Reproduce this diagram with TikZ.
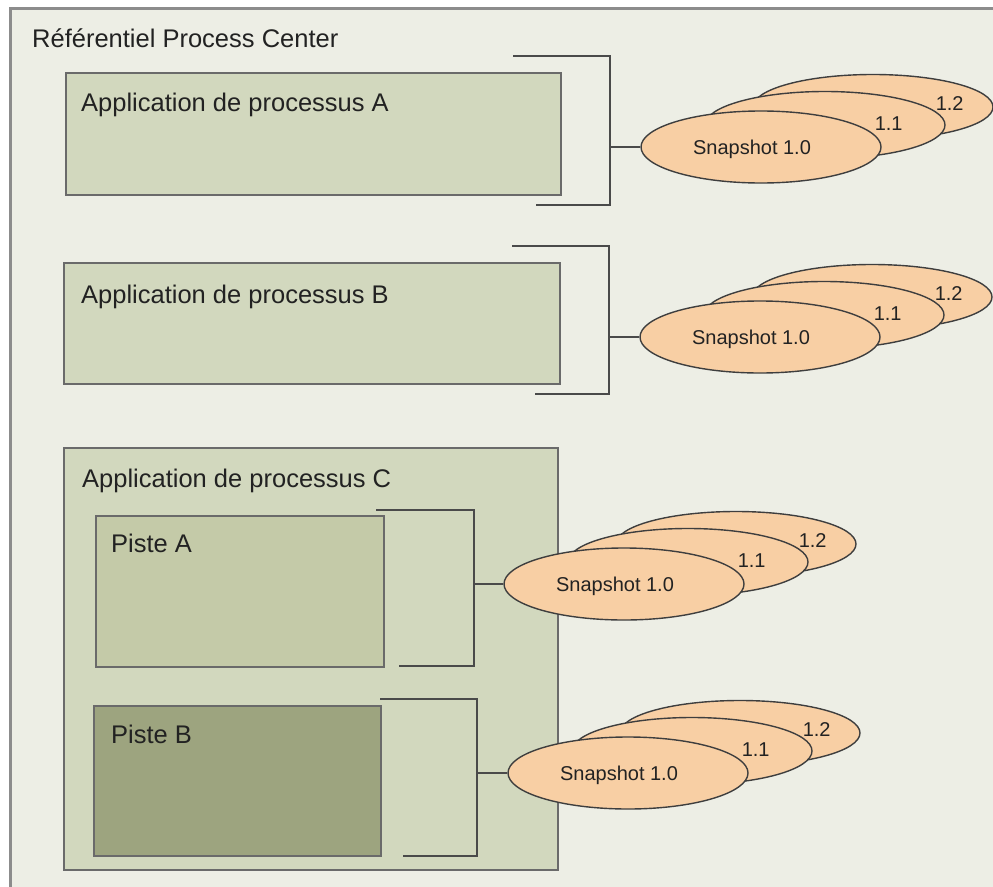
\documentclass[tikz,border=0pt]{standalone}
\usepackage{fontspec}
\setmainfont{Liberation Sans}
\usetikzlibrary{shapes.geometric}
\definecolor{framefill}{HTML}{EDEEE5}
\definecolor{framegray}{HTML}{8C8C8C}
\definecolor{boxline}{HTML}{6A6A6A}
\definecolor{appfill}{HTML}{D2D8BE}
\definecolor{pisteAfill}{HTML}{C4CAA8}
\definecolor{pisteBfill}{HTML}{9DA47F}
\definecolor{snapfill}{HTML}{F8CFA4}
\definecolor{snapline}{HTML}{3E3E3E}
\definecolor{brackline}{HTML}{4A4A4A}
\definecolor{textcol}{HTML}{222222}

\begin{document}
\begin{tikzpicture}[x=1pt, y=-1pt, every node/.style={inner sep=0pt, text=textcol},
    appbox/.style={draw=boxline, line width=2pt, fill=appfill, anchor=north west},
    bigtext/.style={font=\fontsize{25.5}{30}\selectfont, anchor=base west},
    snap/.style={ellipse, draw=snapline, line width=1.4pt, fill=snapfill, minimum width=240pt, minimum height=72pt},
    snaptext/.style={font=\fontsize{20}{24}\selectfont},
    bracket/.style={draw=brackline, line width=1.6pt}]
				\useasboundingbox (0,0) rectangle (993,886);
				\clip (0,0) rectangle (993,886);
				\fill [white] (0,0) rectangle (993,886);
				\draw [framegray, line width=3pt, fill=framefill] (10,8) rectangle (1010,900);
				\node [bigtext] (title) at (32,47) {Référentiel Process Center};
				% applications and tracks
				\node [appbox, minimum width=495pt, minimum height=122pt] (appA) at (65,72) {};
				\node [bigtext] (labA) at (81,111) {Application de processus A};
				\node [appbox, minimum width=496pt, minimum height=121pt] (appB) at (63,262) {};
				\node [bigtext] (labB) at (81,303) {Application de processus B};
				\node [appbox, minimum width=494pt, minimum height=422pt] (appC) at (63,447) {};
				\node [bigtext] (labC) at (82,487) {Application de processus C};
				\node [appbox, fill=pisteAfill, minimum width=288pt, minimum height=151pt] (pisteA) at (95,515) {};
				\node [bigtext] (labPA) at (111,552) {Piste A};
				\node [appbox, fill=pisteBfill, minimum width=287pt, minimum height=150pt] (pisteB) at (93,705) {};
				\node [bigtext] (labPB) at (111,743) {Piste B};
				% brackets
				\draw [bracket] (513,56) -- (610,56) -- (610,205) -- (536,205);
				\draw [bracket] (512,246) -- (609,246) -- (609,394) -- (535,394);
				\draw [bracket] (376,510) -- (474,510) -- (474,666) -- (399,666);
				\draw [bracket] (380,699) -- (477,699) -- (477,856) -- (403,856);
				% snapshot stacks
				\foreach \n/\x/\y/\j in {a/761/147/610, b/760/337/609, c/624/584/474, d/628/773/477} {
					\node [snap, minimum height=65pt] (\n2) at (\x+112,\y-40) {};
					\node [snap, minimum height=67pt] (\n1) at (\x+64,\y-22) {};
					\node [snap] (\n0) at (\x,\y) {};
					\node [snaptext] (\n t2) at ([xshift=-44pt, yshift=3pt]\n2.east) {1.2};
					\node [snaptext] (\n t1) at ([xshift=-57pt, yshift=1pt]\n1.east) {1.1};
					\node [snaptext] (\n t0) at ([xshift=-9pt, yshift=-2pt]\n0.center) {Snapshot 1.0};
					\coordinate (j\n) at (\j,\y);
					\draw [bracket] (j\n) -- (\n0.west);
				}
			\end{tikzpicture}
\end{document}
